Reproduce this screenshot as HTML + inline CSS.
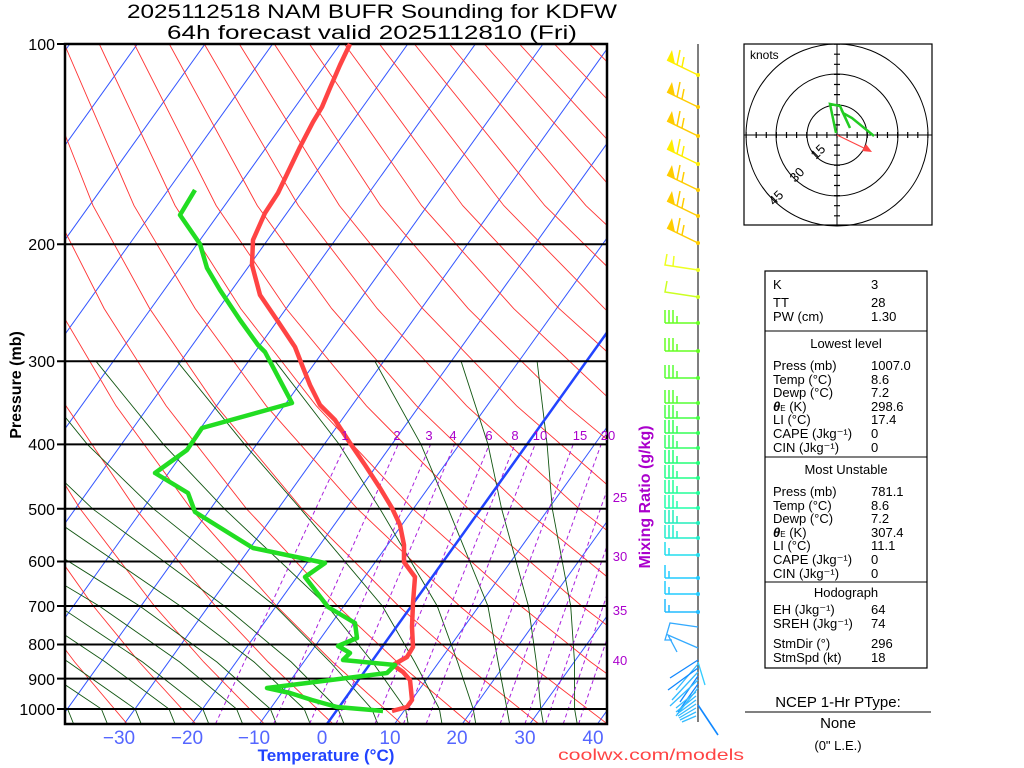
<!DOCTYPE html>
<html><head><meta charset="utf-8"><style>
html,body{margin:0;padding:0;background:#fff;width:1024px;height:768px;overflow:hidden}
svg{display:block}
text{font-family:"Liberation Sans",sans-serif}
</style></head><body>
<svg width="1024" height="768" xmlns="http://www.w3.org/2000/svg">
<defs>
<clipPath id="c"><rect x="65" y="44" width="542" height="680"/></clipPath>
<line id="iso" x1="0" y1="724" x2="486.4" y2="44" stroke="#3355ff" stroke-width="1"/>
<g id="yb" stroke-width="1.5"><line x1="0" y1="0" x2="-31" y2="-15"/><polygon points="-31,-15 -26,-25 -23,-11" stroke="none"/><line x1="-21" y1="-10" x2="-18" y2="-25"/><line x1="-16" y1="-8" x2="-14" y2="-18"/><circle cx="0" cy="0" r="2" stroke="none"/></g>
<g id="gb" stroke-width="1.5"><line x1="0" y1="0" x2="-33" y2="0"/><line x1="-33" y1="0" x2="-33" y2="-13"/><line x1="-29" y1="0" x2="-29" y2="-13"/><line x1="-25" y1="0" x2="-25" y2="-13"/><line x1="-21" y1="0" x2="-21" y2="-7"/><circle cx="0" cy="0" r="2" stroke="none"/></g>
<g id="gb2" stroke-width="1.5"><line x1="0" y1="0" x2="-33" y2="0"/><line x1="-33" y1="0" x2="-33" y2="-13"/><line x1="-29" y1="0" x2="-29" y2="-7"/><circle cx="0" cy="0" r="2" stroke="none"/></g>
</defs>
<g clip-path="url(#c)">
<g>
<use href="#iso" x="-416.6"/><use href="#iso" x="-349"/><use href="#iso" x="-281.4"/><use href="#iso" x="-213.8"/><use href="#iso" x="-146.2"/><use href="#iso" x="-78.6"/><use href="#iso" x="-11"/><use href="#iso" x="56.6"/><use href="#iso" x="124.2"/><use href="#iso" x="191.8"/><use href="#iso" x="259.4"/><use href="#iso" x="394.6"/><use href="#iso" x="462.2"/><use href="#iso" x="529.8"/><use href="#iso" x="597.4"/>
</g>
<g fill="none" stroke="#ff3333" stroke-width="0.9">
<polyline points="58.5,723.9 10.2,662 -28.8,606 -86.3,508.8 -134.4,405.8"/>
<polyline points="127.1,723.9 74.7,662 32.3,606 -30.8,508.8 -84.3,405.8"/>
<polyline points="195.7,723.9 139.2,662 93.3,606 24.6,508.8 -34.2,405.8 -77.7,308.6"/>
<polyline points="264.3,723.9 203.7,662 154.4,606 80.1,508.8 15.8,405.8 -32.2,308.6 -71.4,205.6"/>
<polyline points="332.9,723.9 268.2,662 215.4,606 135.5,508.8 65.9,405.8 13.3,308.6 -30.3,205.6 -75.8,44"/>
<polyline points="401.5,723.9 332.7,662 276.5,606 191,508.8 116,405.8 58.8,308.6 10.8,205.6 -40.8,44"/>
<polyline points="470.1,723.9 397.2,662 337.5,606 246.5,508.8 166.1,405.8 104.2,308.6 51.9,205.6 -5.7,44"/>
<polyline points="538.7,723.9 461.7,662 398.6,606 301.9,508.8 216.2,405.8 149.7,308.6 93,205.6 29.3,44"/>
<polyline points="607.3,723.9 526.2,662 459.6,606 357.4,508.8 266.2,405.8 195.2,308.6 134,205.6 64.3,44"/>
<polyline points="675.9,723.9 590.7,662 520.7,606 412.8,508.8 316.3,405.8 240.7,308.6 175.1,205.6 99.3,44"/>
<polyline points="744.5,723.9 655.2,662 581.7,606 468.3,508.8 366.4,405.8 286.2,308.6 216.2,205.6 134.3,44"/>
<polyline points="813.1,723.9 719.7,662 642.8,606 523.8,508.8 416.5,405.8 331.7,308.6 257.3,205.6 169.3,44"/>
<polyline points="784.2,662 703.8,606 579.2,508.8 466.6,405.8 377.2,308.6 298.4,205.6 204.3,44"/>
<polyline points="848.7,662 764.9,606 634.7,508.8 516.6,405.8 422.7,308.6 339.4,205.6 239.3,44"/>
<polyline points="825.9,606 690.1,508.8 566.7,405.8 468.2,308.6 380.5,205.6 274.3,44"/>
<polyline points="745.6,508.8 616.8,405.8 513.7,308.6 421.6,205.6 309.4,44"/>
<polyline points="801,508.8 666.9,405.8 559.1,308.6 462.7,205.6 344.4,44"/>
<polyline points="717,405.8 604.6,308.6 503.8,205.6 379.4,44"/>
<polyline points="767,405.8 650.1,308.6 544.8,205.6 414.4,44"/>
<polyline points="695.6,308.6 585.9,205.6 449.4,44"/>
<polyline points="741,308.6 627,205.6 484.4,44"/>
<polyline points="668,205.6 519.4,44"/>
<polyline points="709,205.6 554.4,44"/>
<polyline points="750,205.6 589.4,44"/>
<polyline points="791,205.6 624.4,44"/>
</g>
<g fill="none" stroke="#115511" stroke-width="0.9">
<polyline points="577.2,723.9 574.6,709 574.5,662 570.7,606 552.3,508.8 547.1,444.4 537.1,361.3"/>
<polyline points="543.4,723.9 540.8,709 536.3,662 528.4,606 501.6,508.8 488,444.4 461.1,361.3"/>
<polyline points="509.6,723.9 507,709 498.1,662 487.9,606 448.2,508.8 421,444.4 374.9,361.3"/>
<polyline points="475.8,723.9 473.2,709 457.6,662 437.2,606 379.9,508.8 339.2,444.4 275.2,361.3"/>
<polyline points="442,723.9 439.4,709 414.7,662 382.4,606 300.5,508.8 244.6,444.4 177.2,361.3"/>
<polyline points="408.2,723.9 405.6,709 372.4,662 327.3,606 224.4,508.8 163.5,444.4 96,361.3"/>
<polyline points="377.8,723.9 371.8,709 330.1,662 274.9,606 153.5,508.8 87.4,444.4 20,361.3"/>
<polyline points="344,723.9 338,709 291.3,662 224.2,606 92.6,508.8 24.9,444.4"/>
<polyline points="310.2,723.9 304.2,709 254.1,662 180.3,606 38.5,508.8"/>
<polyline points="276.4,723.9 270.4,709 216.9,662 139.7,606 -15.5,508.8"/>
<polyline points="242.6,723.9 236.6,709 179.7,662 99.2,606 -62.9,508.8"/>
<polyline points="208.8,723.9 202.8,709 142.6,662 58.6,606 -100,508.8"/>
<polyline points="175,723.9 169,709 105.4,662 21.4,606"/>
<polyline points="141.2,723.9 135.2,709 68.2,662 -19.1,606"/>
<polyline points="107.4,723.9 101.4,709 31,662 -60,606"/>
<polyline points="73.6,723.9 67.6,709 -6.2,662"/>
</g>
<g stroke="#aa22dd" stroke-width="1" stroke-dasharray="4,3">
<line x1="215.5" y1="723.9" x2="345.7" y2="444.4"/>
<line x1="273.6" y1="723.9" x2="398.2" y2="444.4"/>
<line x1="309.6" y1="723.9" x2="430.6" y2="444.4"/>
<line x1="336.1" y1="723.9" x2="454.5" y2="444.4"/>
<line x1="375" y1="723.9" x2="489.3" y2="444.4"/>
<line x1="403.4" y1="723.9" x2="514.9" y2="444.4"/>
<line x1="426.1" y1="723.9" x2="535.1" y2="444.4"/>
<line x1="468.8" y1="723.9" x2="573.2" y2="444.4"/>
<line x1="500.1" y1="723.9" x2="601.1" y2="444.4"/>
<line x1="524.9" y1="723.9" x2="623.1" y2="444.4"/>
<line x1="545.6" y1="723.9" x2="642" y2="444.4"/>
<line x1="563.2" y1="723.9" x2="658" y2="444.4"/>
<line x1="578.6" y1="723.9" x2="672" y2="444.4"/>
</g>
<line x1="327" y1="724" x2="813.4" y2="44" stroke="#2244ff" stroke-width="2.5"/>
</g>
<g stroke="#000" stroke-width="2">
<line x1="57" y1="44" x2="607" y2="44"/><line x1="57" y1="244.2" x2="607" y2="244.2"/><line x1="57" y1="361.3" x2="607" y2="361.3"/><line x1="57" y1="444.4" x2="607" y2="444.4"/><line x1="57" y1="508.8" x2="607" y2="508.8"/><line x1="57" y1="561.5" x2="607" y2="561.5"/><line x1="57" y1="606" x2="607" y2="606"/><line x1="57" y1="644.5" x2="607" y2="644.5"/><line x1="57" y1="678.6" x2="607" y2="678.6"/><line x1="57" y1="709" x2="607" y2="709"/>
</g>
<rect x="65" y="44" width="542" height="680" fill="none" stroke="#000" stroke-width="2.5"/>
<g font-size="16" text-anchor="end">
<text x="55" y="50">100</text><text x="55" y="250">200</text><text x="55" y="367">300</text><text x="55" y="450">400</text><text x="55" y="515">500</text><text x="55" y="567">600</text><text x="55" y="612">700</text><text x="55" y="650">800</text><text x="55" y="685">900</text><text x="55" y="715">1000</text>
</g>
<g font-size="19" fill="#5566ff" text-anchor="middle">
<text x="119" y="744">−30</text><text x="187" y="744">−20</text><text x="254" y="744">−10</text><text x="322" y="744">0</text><text x="390" y="744">10</text><text x="457" y="744">20</text><text x="525" y="744">30</text><text x="593" y="744">40</text>
</g>
<polyline fill="none" stroke="#ff4444" stroke-width="4.5" stroke-linejoin="round" points="350,44 340,65 330,88 322,107 313,122 300,147 288,172 278,193 265,213 253,240 252,265 260,295 277,320 295,347 302,365 310,385 320,405 335,420 350,443 365,465 380,488 392,508 400,525 404,545 404,562 415,577 413,603 412,627 413,647 407,657 393,665 403,672 410,680 412,700 407,707 392,711"/>
<polyline fill="none" stroke="#22dd22" stroke-width="4.5" stroke-linejoin="round" points="195,190 180,215 200,244 207,268 220,290 240,320 258,345 265,352 292,403 202,428 187,450 155,473 188,493 195,512 240,540 253,548 325,563 305,577 328,607 355,623 357,638 338,646 350,653 343,660 395,665 387,673 267,688 290,693 312,700 337,707 383,711"/>
<text x="372" y="18" font-size="19" text-anchor="middle" textLength="490" lengthAdjust="spacingAndGlyphs">2025112518 NAM BUFR Sounding for KDFW</text>
<text x="372" y="39" font-size="19" text-anchor="middle" textLength="410" lengthAdjust="spacingAndGlyphs">64h forecast valid 2025112810 (Fri)</text>
<text transform="translate(21,385) rotate(-90)" font-size="16" font-weight="bold" text-anchor="middle">Pressure (mb)</text>
<text x="326" y="761" font-size="17" font-weight="bold" fill="#2244ff" text-anchor="middle">Temperature (°C)</text>
<text x="651" y="760" font-size="16" fill="#ff4444" text-anchor="middle" textLength="186" lengthAdjust="spacingAndGlyphs">coolwx.com/models</text>
<text transform="translate(650,497) rotate(-90)" font-size="16" font-weight="bold" fill="#aa00cc" text-anchor="middle">Mixing Ratio (g/kg)</text>
<g font-size="13" fill="#aa00cc" text-anchor="middle">
<text x="345" y="440">1</text><text x="397" y="440">2</text><text x="429" y="440">3</text><text x="453" y="440">4</text><text x="489" y="440">6</text><text x="515" y="440">8</text><text x="540" y="440">10</text><text x="580" y="440">15</text><text x="608" y="440">20</text>
<text x="620" y="502">25</text><text x="620" y="561">30</text><text x="620" y="615">35</text><text x="620" y="665">40</text>
</g>
<rect x="744" y="44" width="188" height="181" fill="none" stroke="#000" stroke-width="1.2"/>
<g fill="none" stroke="#000" stroke-width="1">
<circle cx="837" cy="135" r="30"/><circle cx="837" cy="135" r="61"/><circle cx="837" cy="135" r="91"/>
<line x1="744" y1="135" x2="932" y2="135"/><line x1="837" y1="44" x2="837" y2="225"/>
<line x1="745.5" y1="135" x2="930" y2="135" stroke-width="6" stroke-dasharray="1.2,8.9"/>
<line x1="837" y1="43.5" x2="837" y2="226" stroke-width="6" stroke-dasharray="1.2,8.9"/>
</g>
<text x="750" y="59" font-size="12">knots</text>
<text transform="translate(816,160) rotate(-45)" font-size="13">15</text>
<text transform="translate(795,183) rotate(-45)" font-size="13">30</text>
<text transform="translate(774,206) rotate(-45)" font-size="13">45</text>
<polyline points="836,133 830,104 840,106 850,128 843,113 852,118 874,136" fill="none" stroke="#22cc22" stroke-width="2.5"/>
<line x1="837" y1="135" x2="868" y2="150" stroke="#ff4444" stroke-width="1.2"/>
<polygon points="872,152 862,151 866,144" fill="#ff4444"/>
<g font-size="13">
<rect x="765" y="271" width="162" height="397" fill="none" stroke="#000" stroke-width="1.2"/>
<line x1="765" y1="331" x2="927" y2="331" stroke="#000"/>
<line x1="765" y1="457" x2="927" y2="457" stroke="#000"/>
<line x1="765" y1="582" x2="927" y2="582" stroke="#000"/>
<text x="773" y="289">K</text><text x="871" y="289">3</text>
<text x="773" y="307">TT</text><text x="871" y="307">28</text>
<text x="773" y="321">PW (cm)</text><text x="871" y="321">1.30</text>
<text x="846" y="348" text-anchor="middle">Lowest level</text>
<text x="773" y="370">Press (mb)</text><text x="871" y="370">1007.0</text>
<text x="773" y="384">Temp (°C)</text><text x="871" y="384">8.6</text>
<text x="773" y="397">Dewp (°C)</text><text x="871" y="397">7.2</text>
<text x="773" y="411"><tspan font-weight="bold" font-style="italic">θ</tspan><tspan font-size="8">E</tspan> (K)</text><text x="871" y="411">298.6</text>
<text x="773" y="424">LI (°C)</text><text x="871" y="424">17.4</text>
<text x="773" y="438">CAPE (Jkg⁻¹)</text><text x="871" y="438">0</text>
<text x="773" y="452">CIN (Jkg⁻¹)</text><text x="871" y="452">0</text>
<text x="846" y="474" text-anchor="middle">Most Unstable</text>
<text x="773" y="496">Press (mb)</text><text x="871" y="496">781.1</text>
<text x="773" y="510">Temp (°C)</text><text x="871" y="510">8.6</text>
<text x="773" y="523">Dewp (°C)</text><text x="871" y="523">7.2</text>
<text x="773" y="537"><tspan font-weight="bold" font-style="italic">θ</tspan><tspan font-size="8">E</tspan> (K)</text><text x="871" y="537">307.4</text>
<text x="773" y="550">LI (°C)</text><text x="871" y="550">11.1</text>
<text x="773" y="564">CAPE (Jkg⁻¹)</text><text x="871" y="564">0</text>
<text x="773" y="578">CIN (Jkg⁻¹)</text><text x="871" y="578">0</text>
<text x="846" y="597" text-anchor="middle">Hodograph</text>
<text x="773" y="614">EH (Jkg⁻¹)</text><text x="871" y="614">64</text>
<text x="773" y="628">SREH (Jkg⁻¹)</text><text x="871" y="628">74</text>
<text x="773" y="648">StmDir (°)</text><text x="871" y="648">296</text>
<text x="773" y="662">StmSpd (kt)</text><text x="871" y="662">18</text>
</g>
<text x="838" y="707" font-size="15" text-anchor="middle">NCEP 1-Hr PType:</text>
<line x1="745" y1="712" x2="931" y2="712" stroke="#000"/>
<text x="838" y="728" font-size="15" text-anchor="middle">None</text>
<text x="838" y="750" font-size="13" text-anchor="middle">(0" L.E.)</text>
<line x1="698" y1="44" x2="698" y2="722" stroke="#555" stroke-width="1.5"/>
<use href="#yb" x="698" y="75" fill="#ffee00" stroke="#ffee00"/>
<use href="#yb" x="698" y="107" fill="#ffcc00" stroke="#ffcc00"/>
<use href="#yb" x="698" y="136" fill="#ffcc00" stroke="#ffcc00"/>
<use href="#yb" x="698" y="164" fill="#ffee00" stroke="#ffee00"/>
<use href="#yb" x="698" y="190" fill="#ffcc00" stroke="#ffcc00"/>
<use href="#yb" x="698" y="216" fill="#ffcc00" stroke="#ffcc00"/>
<use href="#yb" x="698" y="243" fill="#ffcc00" stroke="#ffcc00"/>
<g stroke-width="1.5">
<polyline points="698,270 665,265 667,254" fill="none" stroke="#eeff22"/><line x1="673" y1="266" x2="674" y2="256" stroke="#eeff22"/><circle cx="698" cy="270" r="2" fill="#eeff22"/>
<polyline points="698,297 665,292 667,281" fill="none" stroke="#ccff22"/><circle cx="698" cy="297" r="2" fill="#ccff22"/>
</g>
<use href="#gb" x="698" y="323" fill="#66ff22" stroke="#66ff22"/>
<use href="#gb" x="698" y="351" fill="#66ff22" stroke="#66ff22"/>
<use href="#gb" x="698" y="378" fill="#55ff33" stroke="#55ff33"/>
<use href="#gb" x="698" y="403" fill="#55ff33" stroke="#55ff33"/>
<use href="#gb" x="698" y="418" fill="#44ff44" stroke="#44ff44"/>
<use href="#gb" x="698" y="433" fill="#33ff55" stroke="#33ff55"/>
<use href="#gb" x="698" y="448" fill="#33ff66" stroke="#33ff66"/>
<use href="#gb" x="698" y="463" fill="#22ff77" stroke="#22ff77"/>
<use href="#gb" x="698" y="478" fill="#22ff88" stroke="#22ff88"/>
<use href="#gb" x="698" y="493" fill="#22ff99" stroke="#22ff99"/>
<use href="#gb" x="698" y="508" fill="#22ffaa" stroke="#22ffaa"/>
<use href="#gb" x="698" y="523" fill="#22eebb" stroke="#22eebb"/>
<use href="#gb" x="698" y="538" fill="#22eecc" stroke="#22eecc"/>
<use href="#gb2" x="698" y="555" fill="#22ddee" stroke="#22ddee"/>
<use href="#gb2" x="698" y="578" fill="#22ccff" stroke="#22ccff"/>
<use href="#gb2" x="698" y="594" fill="#22ccff" stroke="#22ccff"/>
<use href="#gb2" x="698" y="612" fill="#22bbff" stroke="#22bbff"/>
<g stroke-width="1.3" fill="none">
<polyline points="698,627 670,623 665,640 672,640" stroke="#33aaff"/>
<polyline points="698,648 668,635 677,652" stroke="#33aaff"/>
<line x1="698" y1="660" x2="670" y2="678" stroke="#1188ff"/>
<line x1="698" y1="664" x2="676" y2="690" stroke="#33bbff"/>
<line x1="698" y1="668" x2="668" y2="690" stroke="#1188ff"/>
<line x1="698" y1="672" x2="672" y2="700" stroke="#33bbff"/>
<line x1="698" y1="676" x2="680" y2="702" stroke="#1188ff"/>
<line x1="698" y1="680" x2="670" y2="706" stroke="#33bbff"/>
<line x1="698" y1="684" x2="678" y2="712" stroke="#1188ff"/>
<line x1="698" y1="688" x2="676" y2="716" stroke="#33bbff"/>
<line x1="698" y1="662" x2="705" y2="685" stroke="#33ccff"/>
<line x1="698" y1="705" x2="718" y2="735" stroke="#1188ff" stroke-width="1.6"/>
<line x1="696" y1="692" x2="676" y2="708" stroke="#33bbff"/>
<line x1="696" y1="696" x2="676" y2="712" stroke="#33bbff"/>
<line x1="696" y1="700" x2="677" y2="714" stroke="#33bbff"/>
<line x1="696" y1="704" x2="678" y2="716" stroke="#33bbff"/>
<line x1="696" y1="708" x2="679" y2="718" stroke="#33bbff"/>
<line x1="696" y1="712" x2="680" y2="720" stroke="#33bbff"/>
<line x1="696" y1="716" x2="682" y2="722" stroke="#33bbff"/>
</g>
</svg>
</body></html>
